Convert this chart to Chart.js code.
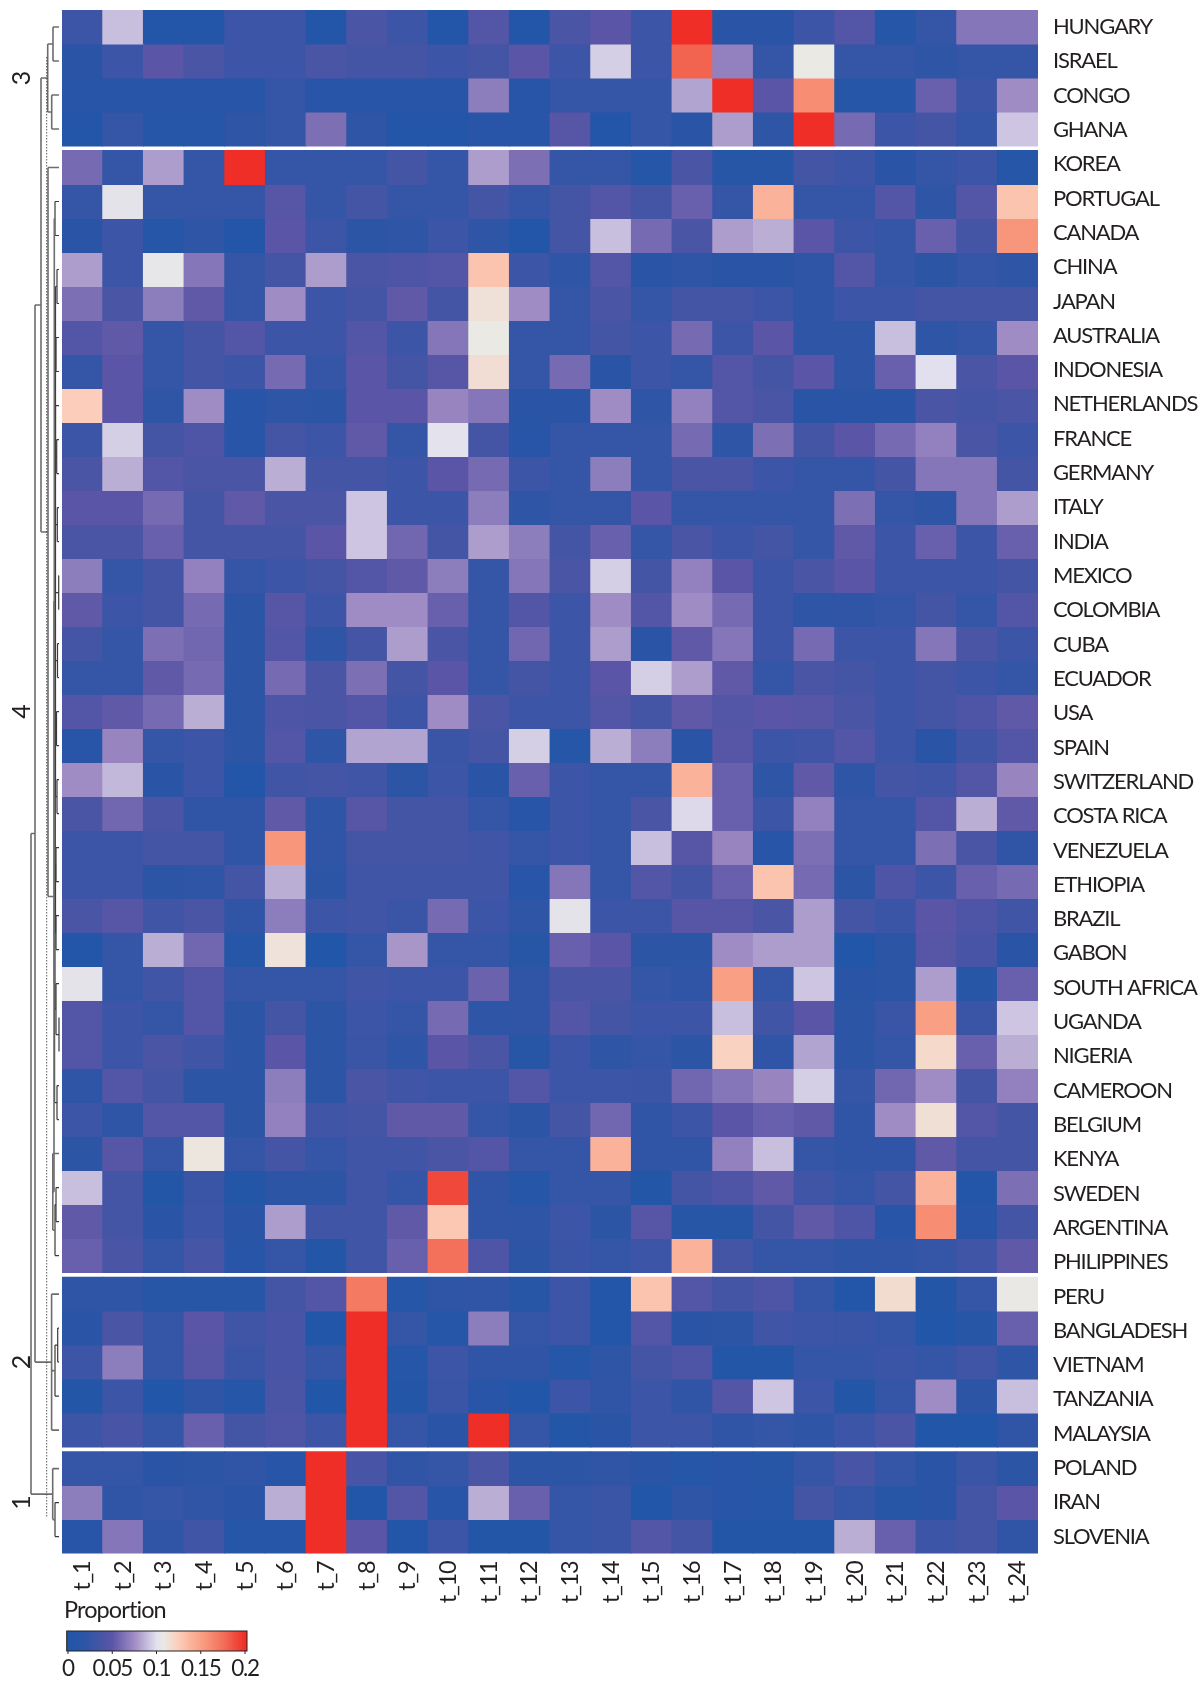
<!DOCTYPE html>
<html>
<head>
<meta charset="utf-8">
<title>Topic proportion by country</title>
<script src="https://cdn.jsdelivr.net/npm/chart.js@4"></script>
<style>
  body { margin: 0; background: #fff; }
  canvas { display: block; }
</style>
</head>
<body>
<canvas id="myChart" width="1198" height="1682"></canvas>
<script>
const topics = ['t_1','t_2','t_3','t_4','t_5','t_6','t_7','t_8','t_9','t_10','t_11','t_12',
  't_13','t_14','t_15','t_16','t_17','t_18','t_19','t_20','t_21','t_22','t_23','t_24'];

const countries = ['HUNGARY','ISRAEL','CONGO','GHANA','KOREA','PORTUGAL','CANADA','CHINA','JAPAN',
  'AUSTRALIA','INDONESIA','NETHERLANDS','FRANCE','GERMANY','ITALY','INDIA','MEXICO','COLOMBIA',
  'CUBA','ECUADOR','USA','SPAIN','SWITZERLAND','COSTA RICA','VENEZUELA','ETHIOPIA','BRAZIL','GABON',
  'SOUTH AFRICA','UGANDA','NIGERIA','CAMEROON','BELGIUM','KENYA','SWEDEN','ARGENTINA','PHILIPPINES',
  'PERU','BANGLADESH','VIETNAM','TANZANIA','MALAYSIA','POLAND','IRAN','SLOVENIA'];

const clusterNames = ['3', '4', '2', '1'];
const clusterSizes = [4, 33, 5, 3];

// one row per country, same order as countries
const proportion = [
  [.03,.09,.005,.005,.03,.03,.005,.04,.03,.005,.045,.005,.04,.05,.03,.2,.015,.015,.03,.045,.008,.025,.065,.065],
  [.015,.03,.05,.04,.03,.03,.04,.035,.035,.03,.035,.05,.03,.095,.03,.18,.07,.025,.108,.025,.025,.02,.025,.025],
  [.012,.012,.012,.012,.012,.025,.012,.012,.012,.012,.068,.012,.025,.025,.025,.082,.2,.05,.16,.008,.008,.055,.03,.075],
  [.005,.025,.008,.008,.02,.025,.062,.02,.005,.005,.012,.012,.048,.005,.025,.015,.08,.02,.2,.06,.03,.035,.025,.092],
  [.06,.025,.08,.025,.2,.025,.025,.025,.035,.025,.08,.062,.025,.025,.008,.04,.01,.01,.035,.03,.015,.025,.03,.008],
  [.025,.103,.025,.025,.025,.048,.025,.035,.025,.025,.035,.025,.035,.045,.035,.055,.025,.14,.025,.025,.045,.02,.045,.13],
  [.015,.03,.008,.02,.005,.05,.03,.018,.02,.03,.02,.005,.035,.09,.06,.04,.08,.085,.05,.03,.025,.055,.035,.155],
  [.08,.03,.105,.065,.025,.035,.08,.04,.042,.045,.13,.03,.02,.045,.015,.02,.015,.015,.02,.045,.025,.018,.025,.02],
  [.062,.04,.068,.052,.025,.075,.03,.035,.052,.035,.113,.075,.025,.04,.025,.035,.035,.03,.02,.03,.03,.035,.035,.035],
  [.045,.052,.025,.035,.045,.03,.03,.045,.03,.065,.108,.025,.025,.035,.03,.06,.03,.05,.02,.02,.09,.02,.025,.075],
  [.025,.05,.025,.035,.03,.06,.025,.05,.035,.048,.115,.025,.06,.015,.03,.025,.045,.035,.05,.02,.055,.1,.04,.05],
  [.125,.05,.02,.075,.012,.02,.018,.05,.05,.072,.065,.015,.015,.075,.02,.07,.045,.04,.015,.015,.015,.04,.035,.04],
  [.03,.095,.035,.042,.012,.035,.03,.052,.025,.102,.035,.012,.025,.025,.025,.06,.02,.062,.035,.05,.06,.07,.04,.03],
  [.04,.085,.045,.04,.04,.085,.035,.035,.03,.05,.06,.03,.025,.068,.025,.04,.04,.03,.025,.025,.035,.065,.065,.035],
  [.05,.05,.06,.035,.052,.04,.04,.092,.03,.03,.068,.02,.025,.025,.05,.025,.025,.025,.025,.062,.025,.02,.065,.08],
  [.04,.04,.055,.035,.035,.035,.05,.092,.058,.035,.08,.068,.035,.055,.025,.04,.03,.035,.025,.052,.03,.055,.03,.055],
  [.068,.025,.035,.07,.025,.03,.035,.045,.052,.068,.025,.065,.04,.095,.035,.07,.05,.03,.04,.05,.03,.03,.03,.035],
  [.052,.03,.035,.06,.018,.048,.03,.075,.075,.055,.025,.045,.03,.075,.045,.075,.06,.03,.02,.022,.025,.035,.025,.045],
  [.035,.025,.062,.058,.018,.045,.02,.035,.08,.04,.025,.058,.03,.08,.015,.052,.065,.03,.06,.03,.03,.065,.04,.03],
  [.025,.025,.052,.06,.018,.06,.04,.062,.035,.05,.025,.035,.03,.05,.095,.08,.052,.025,.04,.035,.03,.035,.03,.025],
  [.045,.052,.06,.085,.018,.042,.04,.045,.03,.075,.04,.03,.03,.045,.035,.052,.045,.05,.048,.04,.03,.035,.042,.052],
  [.012,.072,.025,.03,.018,.045,.02,.082,.082,.028,.035,.095,.008,.085,.068,.015,.048,.03,.032,.045,.03,.015,.032,.045],
  [.075,.088,.015,.03,.005,.033,.035,.033,.018,.03,.015,.055,.03,.025,.025,.14,.055,.02,.052,.02,.035,.033,.045,.072],
  [.04,.058,.04,.022,.022,.052,.02,.048,.035,.035,.025,.012,.03,.025,.04,.098,.055,.03,.07,.025,.025,.045,.085,.052],
  [.03,.03,.035,.035,.022,.155,.022,.035,.035,.035,.032,.025,.03,.025,.09,.048,.072,.012,.062,.025,.025,.062,.04,.022],
  [.03,.03,.018,.02,.035,.085,.018,.033,.032,.032,.033,.012,.065,.025,.045,.035,.055,.13,.06,.018,.042,.03,.055,.06],
  [.04,.048,.033,.04,.022,.068,.03,.032,.028,.06,.03,.02,.103,.03,.03,.048,.048,.04,.08,.035,.028,.05,.042,.032],
  [.005,.025,.085,.058,.008,.112,.004,.025,.078,.025,.025,.01,.055,.05,.018,.018,.075,.08,.08,.004,.018,.048,.038,.015],
  [.103,.025,.033,.045,.025,.025,.025,.033,.03,.03,.056,.022,.04,.04,.025,.022,.15,.025,.092,.015,.018,.08,.01,.055],
  [.045,.03,.025,.045,.018,.035,.018,.03,.025,.06,.02,.022,.045,.035,.03,.03,.09,.032,.05,.018,.028,.15,.028,.092],
  [.045,.03,.04,.032,.018,.05,.018,.028,.02,.05,.04,.01,.03,.02,.025,.018,.122,.022,.082,.018,.025,.118,.055,.085],
  [.02,.045,.035,.018,.018,.068,.018,.04,.032,.03,.03,.045,.03,.03,.028,.058,.065,.072,.095,.025,.058,.075,.035,.07],
  [.03,.02,.045,.045,.018,.07,.032,.035,.052,.052,.025,.018,.035,.058,.022,.03,.05,.055,.052,.022,.075,.114,.045,.035],
  [.018,.048,.025,.11,.025,.035,.025,.033,.033,.04,.045,.025,.025,.14,.022,.022,.07,.09,.025,.022,.022,.052,.035,.035],
  [.09,.035,.006,.028,.006,.018,.018,.033,.025,.19,.022,.008,.025,.025,.006,.035,.042,.052,.032,.025,.035,.14,.005,.062],
  [.052,.035,.015,.03,.015,.08,.032,.033,.052,.128,.022,.02,.03,.018,.048,.01,.01,.035,.052,.042,.012,.16,.012,.035],
  [.055,.04,.025,.037,.012,.025,.006,.033,.055,.175,.042,.018,.028,.025,.03,.14,.035,.025,.025,.02,.022,.025,.032,.052],
  [.02,.02,.01,.01,.01,.035,.045,.17,.008,.02,.022,.01,.03,.005,.13,.045,.035,.042,.025,.005,.116,.006,.025,.107],
  [.015,.04,.025,.05,.033,.038,.004,.2,.025,.008,.068,.025,.03,.005,.045,.015,.018,.032,.03,.028,.025,.004,.01,.055],
  [.03,.068,.025,.048,.028,.038,.025,.2,.008,.03,.022,.022,.008,.02,.035,.042,.006,.006,.025,.025,.028,.025,.032,.02],
  [.006,.03,.004,.02,.008,.04,.004,.2,.006,.028,.012,.004,.03,.022,.03,.022,.045,.092,.03,.006,.025,.075,.018,.09],
  [.03,.038,.025,.055,.035,.042,.03,.2,.025,.015,.2,.025,.006,.015,.03,.03,.022,.025,.02,.03,.04,.004,.004,.022],
  [.025,.025,.015,.018,.022,.012,.2,.038,.022,.025,.04,.018,.018,.022,.015,.008,.012,.01,.025,.038,.025,.015,.028,.018],
  [.068,.022,.025,.022,.015,.085,.2,.004,.045,.012,.085,.055,.025,.028,.004,.02,.012,.008,.035,.025,.01,.015,.035,.05],
  [.012,.065,.022,.033,.008,.008,.2,.05,.005,.03,.006,.006,.025,.028,.045,.035,.006,.006,.006,.085,.055,.03,.035,.022]
];

const legendTicks = [0, 0.05, 0.1, 0.15, 0.2];
const colorStops = [
  [0, '#1f56a8'], [0.02, '#2e55a6'], [0.05, '#5a55a6'], [0.075, '#a08cc4'], [0.1, '#e2e0ee'],
  [0.108, '#eae9e4'], [0.125, '#fccdba'], [0.15, '#f9a084'], [0.175, '#f3705a'], [0.2, '#ee2e27']
];

// dendrogram: [merge height, ...children], a child is a row number or another node
const dendrogram = [31,
  [27,
    [21,
      [14.3, [9, 0, 1], [10.3, 2, 3]],
      [14,
        4,
        [8,
          [7.7,
            [7, 5, 6],
            [7.4,
              [7.1,
                [6.8,
                  [6.5, [5, 7, 8], [6, 9, 10], [6.5, 11, [5.3, 12, 13]], [4.7, 14, 15], [3.3, 16, 17],
                    [4.5, 18, 19], [5.5, 20, 21], [5, 22, 23]],
                  [6.5, [6, 24, 25], [6, 26, 27]]],
                [6, 28, [3, 29, 30]]],
              [5, 31, 32]]],
          [9.2, 33, [7, [6, 34, 35], 36]]]]],
    [10.4, 37, [7, [4.3, 38, 39], 40], 41]],
  [9.3, 42, [7, 43, 44]]
];

const clusterGap = 4.5 / 34;  // white band between clusters, in rows

const hexRgb = h => [1, 3, 5].map(i => parseInt(h.substr(i, 2), 16));

function valueColor(v) {
  for (let i = 1; i < colorStops.length; i++) {
    if (v <= colorStops[i][0]) {
      const [v0, c0] = colorStops[i - 1];
      const [v1, c1] = colorStops[i];
      const t = (v - v0) / (v1 - v0);
      const a = hexRgb(c0), b = hexRgb(c1);
      return `rgb(${a.map((x, k) => Math.round(x + (b[k] - x) * t)).join(',')})`;
    }
  }
  return colorStops[colorStops.length - 1][1];
}

// top edge of every row on the y scale, clusters pushed apart by the gap
const rowStart = [];
clusterSizes.forEach(function (size, g) {
  for (let i = 0; i < size; i++) rowStart.push(rowStart.length + g * clusterGap);
});
const rowEnd = rowStart[rowStart.length - 1] + 1;

const datasets = countries.map(function (name, r) {
  return {
    label: name,
    data: proportion[r].map(() => [rowStart[r], rowStart[r] + 1]),
    backgroundColor: proportion[r].map(valueColor),
    borderWidth: 0,
    inflateAmount: 0.4,
    barPercentage: 1,
    categoryPercentage: 1
  };
});

const TEXT = '#231f20';
const FONT = 'Lato, "Open Sans", sans-serif';

const dendroPlugin = {
  id: 'dendro',
  beforeDraw(chart) {
    // the original face is narrower than anything installed
    chart.ctx.letterSpacing = '-1.2px';
  },
  afterDraw(chart) {
    const ctx = chart.ctx, y = chart.scales.y, left = chart.chartArea.left;
    const rowY = r => y.getPixelForValue(rowStart[r] + 0.5);
    ctx.save();
    function walk(node) {
      if (typeof node === 'number') return { x: left - 3, y: rowY(node) };
      const x = left - node[0];
      const kids = node.slice(1).map(walk);
      const high = node[0] > 7.5;
      ctx.strokeStyle = high ? '#6d6d6d' : '#3a3a3a';
      ctx.lineWidth = high ? 1.6 : 1.2;
      ctx.beginPath();
      ctx.moveTo(x, kids[0].y);
      ctx.lineTo(x, kids[kids.length - 1].y);
      kids.forEach(function (k) { ctx.moveTo(x, k.y); ctx.lineTo(k.x, k.y); });
      ctx.stroke();
      return { x: x, y: (kids[0].y + kids[kids.length - 1].y) / 2 };
    }
    walk(dendrogram);

    // cut line
    ctx.strokeStyle = '#333';
    ctx.lineWidth = 0.8;
    ctx.setLineDash([1.5, 1.5]);
    ctx.beginPath();
    ctx.moveTo(46.7, 57);
    ctx.lineTo(46.7, 1517);
    ctx.stroke();
    ctx.setLineDash([]);

    // cluster numbers
    ctx.fillStyle = TEXT;
    ctx.font = '25px ' + FONT;
    ctx.letterSpacing = '0px';
    ctx.textAlign = 'center';
    ctx.textBaseline = 'middle';
    let start = 0;
    clusterSizes.forEach(function (size, g) {
      const mid = (rowY(start) + rowY(start + size - 1)) / 2;
      ctx.save();
      ctx.translate(22, mid);
      ctx.rotate(-Math.PI / 2);
      ctx.fillText(clusterNames[g], 0, 0);
      ctx.restore();
      start += size;
    });

    // colour key
    const keyX = v => 68 + v * 885;
    const grad = ctx.createLinearGradient(keyX(0), 0, keyX(0.2), 0);
    colorStops.forEach(s => grad.addColorStop(s[0] / 0.2, s[1]));
    ctx.fillStyle = grad;
    ctx.fillRect(66.7, 1631, 180.3, 20);
    ctx.strokeStyle = '#222';
    ctx.lineWidth = 1;
    ctx.strokeRect(66.7, 1631, 180.3, 20);
    ctx.beginPath();
    legendTicks.forEach(function (t) { ctx.moveTo(keyX(t), 1651); ctx.lineTo(keyX(t), 1654); });
    ctx.stroke();
    ctx.fillStyle = TEXT;
    ctx.font = '22.5px ' + FONT;
    ctx.letterSpacing = '-1.3px';
    legendTicks.forEach(t => ctx.fillText(String(t), keyX(t), 1669));
    ctx.letterSpacing = '-0.9px';
    ctx.font = '23.5px ' + FONT;
    ctx.textAlign = 'left';
    ctx.fillText('Proportion', 64, 1610);
    ctx.restore();
  }
};

new Chart(document.getElementById('myChart'), {
  type: 'bar',
  data: { labels: topics, datasets: datasets },
  plugins: [dendroPlugin],
  options: {
    responsive: false,
    animation: false,
    devicePixelRatio: 1,
    layout: { padding: { left: 62, top: 10, right: 0, bottom: 0 } },
    plugins: { legend: { display: false }, tooltip: { enabled: false } },
    scales: {
      x: {
        stacked: true,
        grid: { display: false, drawTicks: false },
        border: { display: false },
        ticks: {
          color: TEXT,
          font: { family: FONT, size: 23.5 },
          minRotation: 90,
          maxRotation: 90,
          padding: 8,
          autoSkip: false
        },
        afterFit(scale) {
          scale.height = 128.4;
          scale.paddingLeft = 0;
          scale.paddingRight = 0;
        }
      },
      y: {
        position: 'right',
        reverse: true,
        min: 0,
        max: rowEnd,
        grid: { display: false, drawTicks: false },
        border: { display: false },
        afterBuildTicks(scale) {
          // labels are evenly spaced in the original, they ignore the cluster gaps
          const step = (rowEnd - 1) / (countries.length - 1);
          scale.ticks = countries.map((c, i) => ({ value: 0.5 + i * step }));
        },
        ticks: {
          color: TEXT,
          font: { family: FONT, size: 22 },
          padding: 15,
          autoSkip: false,
          callback: (value, i) => countries[i]
        },
        afterFit(scale) {
          scale.width = 160;
          scale.paddingTop = 0;
          scale.paddingBottom = 0;
        }
      }
    }
  }
});
</script>
</body>
</html>
